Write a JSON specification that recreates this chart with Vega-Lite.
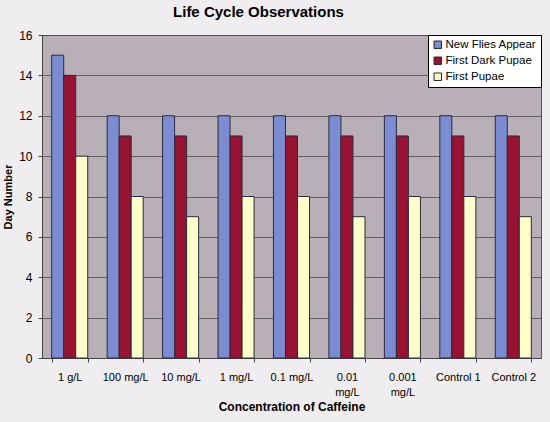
{
  "$schema": "https://vega.github.io/schema/vega-lite/v6.json",
  "width": 499,
  "height": 323,
  "autosize": "none",
  "padding": {"left": 42, "top": 35, "right": 9, "bottom": 64},
  "background": "#efedef",
  "title": {
    "text": "Life Cycle Observations",
    "font": "Liberation Sans",
    "fontSize": 15,
    "fontWeight": "bold",
    "color": "#000000",
    "anchor": "middle",
    "dx": -33,
    "offset": 9
  },
  "config": {
    "view": {"fill": "#b8b0b6", "stroke": "#555555", "strokeWidth": 1},
    "axis": {
      "labelFont": "Liberation Sans",
      "titleFont": "Liberation Sans",
      "labelColor": "#000000",
      "titleColor": "#000000",
      "domainColor": "#444444",
      "tickColor": "#444444"
    }
  },
  "data": {
    "values": [
      {"conc": "1 g/L", "series": "New Flies Appear", "day": 15},
      {"conc": "1 g/L", "series": "First Dark Pupae", "day": 14},
      {"conc": "1 g/L", "series": "First Pupae", "day": 10},
      {"conc": "100 mg/L", "series": "New Flies Appear", "day": 12},
      {"conc": "100 mg/L", "series": "First Dark Pupae", "day": 11},
      {"conc": "100 mg/L", "series": "First Pupae", "day": 8},
      {"conc": "10 mg/L", "series": "New Flies Appear", "day": 12},
      {"conc": "10 mg/L", "series": "First Dark Pupae", "day": 11},
      {"conc": "10 mg/L", "series": "First Pupae", "day": 7},
      {"conc": "1 mg/L", "series": "New Flies Appear", "day": 12},
      {"conc": "1 mg/L", "series": "First Dark Pupae", "day": 11},
      {"conc": "1 mg/L", "series": "First Pupae", "day": 8},
      {"conc": "0.1 mg/L", "series": "New Flies Appear", "day": 12},
      {"conc": "0.1 mg/L", "series": "First Dark Pupae", "day": 11},
      {"conc": "0.1 mg/L", "series": "First Pupae", "day": 8},
      {"conc": "0.01 mg/L", "series": "New Flies Appear", "day": 12},
      {"conc": "0.01 mg/L", "series": "First Dark Pupae", "day": 11},
      {"conc": "0.01 mg/L", "series": "First Pupae", "day": 7},
      {"conc": "0.001 mg/L", "series": "New Flies Appear", "day": 12},
      {"conc": "0.001 mg/L", "series": "First Dark Pupae", "day": 11},
      {"conc": "0.001 mg/L", "series": "First Pupae", "day": 8},
      {"conc": "Control 1", "series": "New Flies Appear", "day": 12},
      {"conc": "Control 1", "series": "First Dark Pupae", "day": 11},
      {"conc": "Control 1", "series": "First Pupae", "day": 8},
      {"conc": "Control 2", "series": "New Flies Appear", "day": 12},
      {"conc": "Control 2", "series": "First Dark Pupae", "day": 11},
      {"conc": "Control 2", "series": "First Pupae", "day": 7}
    ]
  },
  "mark": {"type": "bar", "stroke": "#2a2a3a", "strokeWidth": 1},
  "encoding": {
    "x": {
      "field": "conc",
      "type": "nominal",
      "sort": null,
      "title": "Concentration of Caffeine",
      "scale": {"paddingInner": 0.35, "paddingOuter": 0.175},
      "axis": {
        "labelAngle": 0,
        "labelFontSize": 11,
        "labelPadding": 15,
        "labelBaseline": "middle",
        "labelLineHeight": 15,
        "labelExpr": "datum.value == '0.01 mg/L' ? ['0.01', 'mg/L'] : datum.value == '0.001 mg/L' ? ['0.001', 'mg/L'] : datum.value",
        "tickBand": "extent",
        "tickSize": 4,
        "titleFontSize": 12,
        "titleFontWeight": "bold",
        "titlePadding": 4
      }
    },
    "xOffset": {
      "field": "series",
      "type": "nominal",
      "sort": ["New Flies Appear", "First Dark Pupae", "First Pupae"],
      "scale": {"paddingInner": 0, "paddingOuter": 0}
    },
    "y": {
      "field": "day",
      "type": "quantitative",
      "title": "Day Number",
      "scale": {"domain": [0, 16]},
      "axis": {
        "values": [0, 2, 4, 6, 8, 10, 12, 14, 16],
        "labelFontSize": 12,
        "labelPadding": 6,
        "tickSize": 4,
        "gridColor": "#4a4a4a",
        "gridOpacity": 0.8,
        "titleFontSize": 11,
        "titleFontWeight": "bold",
        "titlePadding": 5
      }
    },
    "color": {
      "field": "series",
      "type": "nominal",
      "sort": ["New Flies Appear", "First Dark Pupae", "First Pupae"],
      "scale": {
        "domain": ["New Flies Appear", "First Dark Pupae", "First Pupae"],
        "range": ["#7c8cd2", "#981232", "#ffffcc"]
      },
      "legend": {
        "title": null,
        "orient": "top-right",
        "offset": 0,
        "fillColor": "#ffffff",
        "strokeColor": "#000000",
        "padding": 4,
        "rowPadding": 3,
        "symbolType": "square",
        "symbolSize": 55,
        "symbolStrokeColor": "#222222",
        "symbolStrokeWidth": 1,
        "labelFont": "Liberation Sans",
        "labelFontSize": 11.5,
        "labelColor": "#000000",
        "labelOffset": 2
      }
    }
  }
}
